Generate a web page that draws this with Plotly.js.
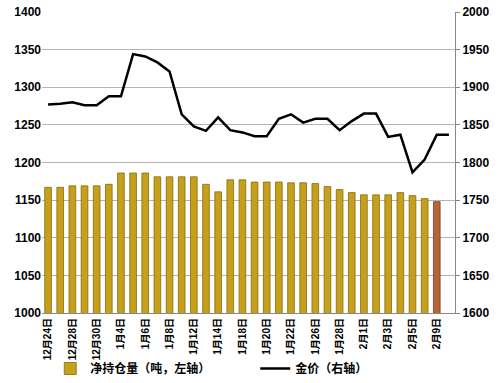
<!DOCTYPE html>
<html><head><meta charset="utf-8">
<script src="https://cdn.plot.ly/plotly-3.0.1.min.js"></script>
<style>html,body{margin:0;padding:0;background:#fff}#c{width:500px;height:383px}</style>
</head><body><div id="c"></div>
<script>
const dates = ["12月24日","12月25日","12月28日","12月29日","12月30日","12月31日","1月4日","1月5日","1月6日","1月7日","1月8日","1月11日","1月12日","1月13日","1月14日","1月15日","1月18日","1月19日","1月20日","1月21日","1月22日","1月25日","1月26日","1月27日","1月28日","1月29日","2月1日","2月2日","2月3日","2月4日","2月5日","2月8日","2月9日","2月10日"];
const holdings = [1167,1167,1169,1169,1169,1171,1186,1186,1186,1181,1181,1181,1181,1171,1161,1177,1177,1174,1174,1174,1173,1173,1172,1168,1164,1160,1157,1157,1157,1160,1156,1152,1148,null];
const goldPrice = [1877,1878,1880,1876,1876,1888,1888,1944,1941,1933,1921,1864,1848,1842,1860,1843,1840,1835,1835,1858,1864,1853,1858,1858,1843,1855,1865,1865,1834,1837,1787,1804,1837,1837];
const tickLabels = dates.filter((d,i)=>i%2===0 && i<33);
const barColors = holdings.map((v,i)=> i===32 ? '#B4653A' : '#C4A01C');
const lineColors = holdings.map((v,i)=> i===32 ? '#7A3E1E' : '#8A6A08');

const font = {family:'"Liberation Sans", "Noto Sans CJK SC", Arial, sans-serif', size:12, color:'#000'};
const data = [
  {type:'bar', x:dates, y:holdings, name:'<b>净持仓量（吨，左轴）</b>', yaxis:'y',
   marker:{color:barColors, line:{color:lineColors, width:0.8}}},
  {type:'scatter', mode:'lines', x:dates, y:goldPrice, name:'<b>金价（右轴）</b>', yaxis:'y2',
   line:{color:'#000', width:2.5}}
];
const layout = {
  width:500, height:383,
  margin:{l:42, r:45, t:12, b:70},
  paper_bgcolor:'#fff', plot_bgcolor:'#fff',
  font: font,
  bargap:0.45,
  showlegend:true,
  legend:{orientation:'h', xref:'paper', yref:'container', x:0.02, y:0, xanchor:'left', yanchor:'bottom', bgcolor:'rgba(0,0,0,0)', font:{size:12, family:font.family}, itemwidth:30, entrywidth:160, tracegroupgap:0},
  xaxis:{type:'category', tickmode:'array', tickvals:tickLabels, ticktext:tickLabels.map(t=>'<b>'+t+'</b>'), tickangle:-90,
         tickfont:{size:10, family:font.family}, showline:true, linecolor:'#888', linewidth:1, ticks:'', showgrid:false, range:[-0.5,33.5]},
  yaxis:{range:[1000,1400], tickvals:[1000,1050,1100,1150,1200,1250,1300,1350,1400],
         ticktext:['1000','1050','1100','1150','1200','1250','1300','1350','1400'].map(t=>'<b>'+t+'</b>'),
         showgrid:true, gridcolor:'#B4B4B4', gridwidth:1, showline:false, zeroline:false, tickfont:{size:12}, ticks:'', ticklen:0},
  yaxis2:{range:[1600,2000], overlaying:'y', side:'right', tickvals:[1600,1650,1700,1750,1800,1850,1900,1950,2000],
          ticktext:['1600','1650','1700','1750','1800','1850','1900','1950','2000'].map(t=>'<b>'+t+'</b>'),
          showgrid:false, showline:true, linecolor:'#888', linewidth:1, zeroline:false, tickfont:{size:12}, ticks:'outside', ticklen:4, tickcolor:'#888'}
};
Plotly.newPlot('c', data, layout, {displayModeBar:false, staticPlot:true});
</script></body></html>
